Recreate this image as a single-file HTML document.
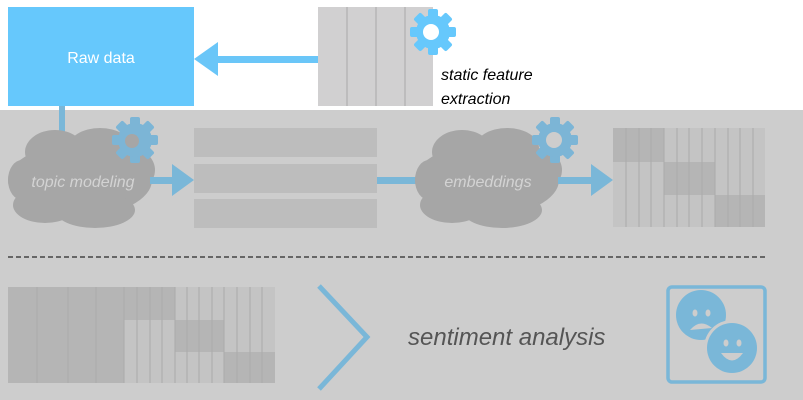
<!DOCTYPE html>
<html><head><meta charset="utf-8"><style>
html,body{margin:0;padding:0;background:#fff;}
svg{display:block;}
text{font-family:"Liberation Sans",sans-serif;}
</style></head><body>
<svg width="803" height="400" viewBox="0 0 803 400" xmlns="http://www.w3.org/2000/svg">
<defs>
<g id="gear">
  <g>
    <rect x="-5" y="-23" width="10" height="46" rx="2"/>
    <rect x="-5" y="-23" width="10" height="46" rx="2" transform="rotate(45)"/>
    <rect x="-5" y="-23" width="10" height="46" rx="2" transform="rotate(90)"/>
    <rect x="-5" y="-23" width="10" height="46" rx="2" transform="rotate(135)"/>
    <circle r="17"/>
  </g>
</g>
</defs>
<rect width="803" height="400" fill="#fff"/>
<!-- top -->
<rect x="8" y="7" width="186" height="99" fill="#66c8fc"/>
<text x="101" y="63" font-size="16" fill="#fff" text-anchor="middle">Raw data</text>
<rect x="218" y="56" width="100" height="7" fill="#6ac6f8"/>
<polygon points="194,59 218,42 218,76" fill="#6ac6f8"/>
<rect x="318" y="7" width="115" height="99" fill="#d1d0d1"/>
<g stroke="#a9a9a9" stroke-width="1"><line x1="347" y1="7" x2="347" y2="106"/><line x1="376" y1="7" x2="376" y2="106"/><line x1="405" y1="7" x2="405" y2="106"/></g>
<g fill="#66c8fc" transform="translate(433,32)"><use href="#gear"/></g>
<circle cx="431" cy="32" r="8" fill="#fff"/>
<text x="441" y="80" font-size="16" font-style="italic" fill="#000">static feature</text>
<text x="441" y="104" font-size="16" font-style="italic" fill="#000">extraction</text>
<!-- gray area -->
<rect x="0" y="110" width="803" height="290" fill="#cdcdcd"/>
<rect x="59" y="106" width="6" height="32" fill="#7ab7d8"/>
<!-- cloud 1 -->
<g fill="#a6a6a6">
<ellipse cx="80" cy="180" rx="72" ry="36"/>
<ellipse cx="55" cy="152" rx="30" ry="22"/>
<ellipse cx="100" cy="148" rx="32" ry="20"/>
<ellipse cx="130" cy="170" rx="25" ry="22"/>
<ellipse cx="45" cy="205" rx="32" ry="18"/>
<ellipse cx="95" cy="210" rx="40" ry="18"/>
<ellipse cx="22" cy="180" rx="14" ry="20"/>
</g>
<g fill="#7cb5d6" transform="translate(135,140)"><use href="#gear"/></g>
<circle cx="132" cy="141" r="7" fill="#a6a6a6"/>
<text x="83" y="187" font-size="16" font-style="italic" fill="#d3d3d3" text-anchor="middle">topic modeling</text>
<rect x="150" y="177" width="22" height="7" fill="#7ab7d8"/>
<polygon points="194,180 172,164 172,196" fill="#7ab7d8"/>
<g fill="#bdbdbd"><rect x="194" y="128" width="183" height="29"/><rect x="194" y="164" width="183" height="29"/><rect x="194" y="199" width="183" height="29"/></g>
<rect x="377" y="177" width="45" height="7" fill="#7ab7d8"/>
<!-- cloud 2 -->
<g fill="#a6a6a6">
<ellipse cx="487" cy="180" rx="72" ry="36"/>
<ellipse cx="462" cy="152" rx="30" ry="22"/>
<ellipse cx="507" cy="148" rx="32" ry="20"/>
<ellipse cx="537" cy="170" rx="25" ry="22"/>
<ellipse cx="452" cy="205" rx="32" ry="18"/>
<ellipse cx="502" cy="210" rx="40" ry="18"/>
<ellipse cx="429" cy="180" rx="14" ry="20"/>
</g>
<g fill="#7cb5d6" transform="translate(555,140)"><use href="#gear"/></g>
<circle cx="554" cy="140" r="8" fill="#cdcdcd"/>
<text x="488" y="187" font-size="16" font-style="italic" fill="#d3d3d3" text-anchor="middle">embeddings</text>
<rect x="558" y="177" width="33" height="7" fill="#7ab7d8"/>
<polygon points="613,180 591,164 591,196" fill="#7ab7d8"/>
<!-- matrix right -->
<rect x="613" y="128" width="152" height="99" fill="#c4c4c4"/>
<rect x="613" y="128" width="51" height="34" fill="#b5b5b5"/>
<rect x="664" y="162" width="51" height="33" fill="#b5b5b5"/>
<rect x="715" y="195" width="50" height="32" fill="#b5b5b5"/>
<g stroke="#aaaaaa" stroke-width="1">
<line x1="626" y1="128" x2="626" y2="227"/><line x1="639" y1="128" x2="639" y2="227"/><line x1="651" y1="128" x2="651" y2="227"/><line x1="664" y1="128" x2="664" y2="227"/><line x1="677" y1="128" x2="677" y2="227"/><line x1="689" y1="128" x2="689" y2="227"/><line x1="702" y1="128" x2="702" y2="227"/><line x1="715" y1="128" x2="715" y2="227"/><line x1="728" y1="128" x2="728" y2="227"/><line x1="740" y1="128" x2="740" y2="227"/><line x1="753" y1="128" x2="753" y2="227"/>
</g>
<!-- dashed -->
<line x1="8" y1="257" x2="766" y2="257" stroke="#666" stroke-width="2" stroke-dasharray="5,3"/>
<!-- bottom matrix -->
<rect x="8" y="287" width="267" height="96" fill="#c4c4c4"/>
<rect x="8" y="287" width="116" height="96" fill="#b5b5b5"/>
<rect x="124" y="287" width="51" height="33" fill="#b5b5b5"/>
<rect x="175" y="320" width="49" height="32" fill="#b5b5b5"/>
<rect x="224" y="352" width="51" height="31" fill="#b5b5b5"/>
<g stroke="#aaaaaa" stroke-width="1">
<line x1="37" y1="287" x2="37" y2="383"/><line x1="68" y1="287" x2="68" y2="383"/><line x1="96" y1="287" x2="96" y2="383"/><line x1="124" y1="287" x2="124" y2="383"/><line x1="137" y1="287" x2="137" y2="383"/><line x1="150" y1="287" x2="150" y2="383"/><line x1="162" y1="287" x2="162" y2="383"/><line x1="175" y1="287" x2="175" y2="383"/><line x1="187" y1="287" x2="187" y2="383"/><line x1="199" y1="287" x2="199" y2="383"/><line x1="212" y1="287" x2="212" y2="383"/><line x1="224" y1="287" x2="224" y2="383"/><line x1="237" y1="287" x2="237" y2="383"/><line x1="250" y1="287" x2="250" y2="383"/><line x1="262" y1="287" x2="262" y2="383"/>
</g>
<polyline points="319,286 367,337 319,389" fill="none" stroke="#7ab7d8" stroke-width="5"/>
<text x="408" y="345" font-size="24" font-style="italic" fill="#555">sentiment analysis</text>
<rect x="668" y="287" width="97" height="95" rx="4" fill="none" stroke="#7ab7d8" stroke-width="3.5"/>
<circle cx="701" cy="315" r="25" fill="#7ab7d8"/>
<circle cx="732" cy="348" r="28" fill="#cdcdcd"/>
<circle cx="732" cy="348" r="25" fill="#7ab7d8"/>
<g fill="#cdcdcd">
<ellipse cx="695" cy="313" rx="2.5" ry="3.5"/><ellipse cx="708" cy="313" rx="2.5" ry="3.5"/>
<ellipse cx="726" cy="343" rx="2.5" ry="3.5"/><ellipse cx="739" cy="343" rx="2.5" ry="3.5"/>
<path d="M721,353 Q732,368 743,353 Z"/>
<path d="M690,330 Q700,318 712,328 Z"/>
</g>
</svg>
</body></html>
